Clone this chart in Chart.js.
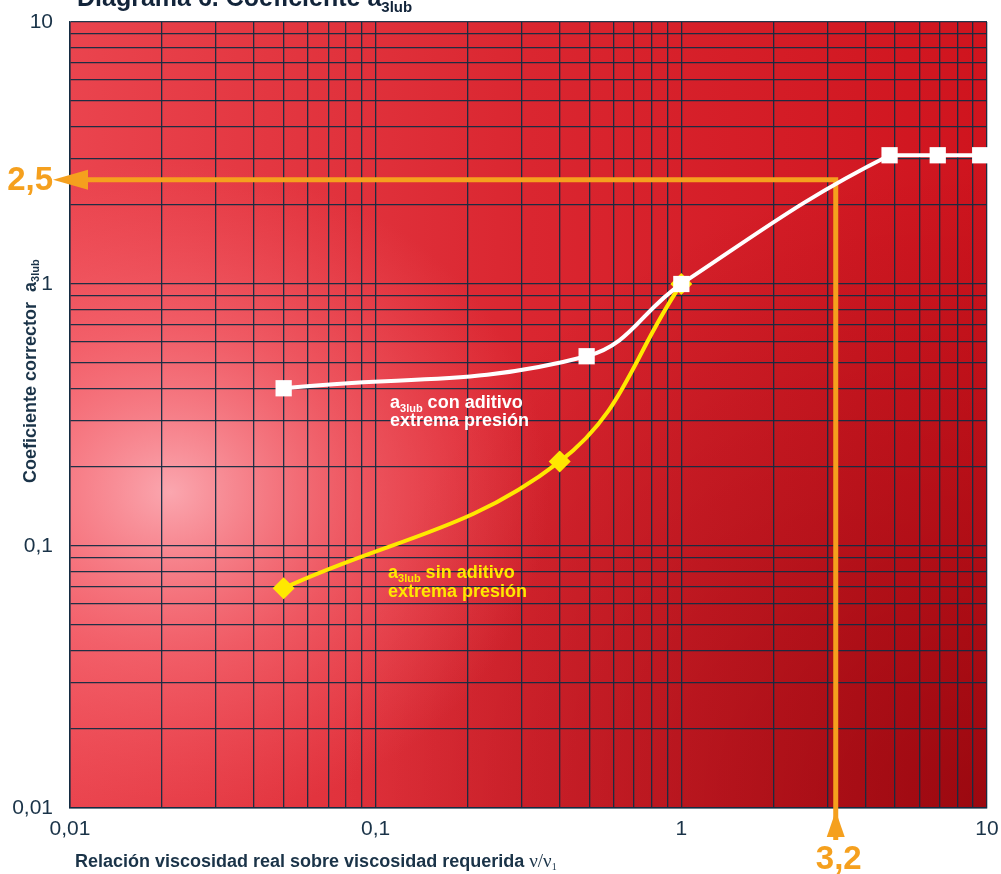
<!DOCTYPE html>
<html>
<head>
<meta charset="utf-8">
<script src="https://cdn.jsdelivr.net/npm/chart.js@4.4.0/dist/chart.umd.min.js"></script>
<style>
body { margin: 0; background: #fff; }
canvas { display: block; }
</style>
</head>
<body>
<canvas id="myChart" width="1001" height="874"></canvas>
<script>
// axis decades and their labels (both axes are log 0.01 .. 10)
var tickValues = [0.01, 0.1, 1, 10];
var tickLabels = ['0,01', '0,1', '1', '10'];

// a3lub con aditivo extrema presion (white curve)
var conX = [0.05, 0.49, 1, 4.8, 6.9, 9.5];
var conY = [0.4, 0.53, 1, 3.1, 3.1, 3.1];

// a3lub sin aditivo extrema presion (yellow curve)
var sinX = [0.05, 0.4, 1];
var sinY = [0.069, 0.21, 1];

// worked example
var readX = 3.2;
var readY = 2.5;
var readXLabel = '3,2';
var readYLabel = '2,5';

var navy = '#1a3348';
var orange = '#f5a01e';
var yellow = '#ffe800';
var sans = '"Liberation Sans", Arial, sans-serif';

// 1..9 lines inside each decade
var gridValues = [];
for (var d = 0; d < tickValues.length - 1; d++) {
    for (var m = 1; m < 10; m++) {
        gridValues.push(+(tickValues[d] * m).toPrecision(6));
    }
}
gridValues.push(tickValues[tickValues.length - 1]);

// where the white curve turns into the flat plateau
var flatFrom = conY.length - 1;
while (flatFrom > 0 && conY[flatFrom - 1] === conY[flatFrom]) flatFrom--;

function labelFor(v) {
    for (var i = 0; i < tickValues.length; i++) {
        if (Math.abs(v - tickValues[i]) < tickValues[i] * 1e-6) return tickLabels[i];
    }
    return '';
}

function toPoints(xs, ys) {
    return xs.map(function(x, i) { return {x: x, y: ys[i]}; });
}

// draws a run of text pieces with different fonts / baseline shifts
function drawRuns(ctx, runs, x, y) {
    for (var i = 0; i < runs.length; i++) {
        ctx.font = runs[i].f;
        ctx.fillText(runs[i].t, x, y + (runs[i].dy || 0));
        x += ctx.measureText(runs[i].t).width;
    }
}

var bgPlugin = {
    id: 'bg',
    beforeDraw: function(chart) {
        var ctx = chart.ctx, a = chart.chartArea;
        var w = a.right - a.left, h = a.bottom - a.top;
        ctx.save();
        var g = ctx.createLinearGradient(a.left, 0, a.right, 0);
        g.addColorStop(0, '#ea444e');
        g.addColorStop(0.5, '#da2630');
        g.addColorStop(1, '#cf141e');
        ctx.fillStyle = g;
        ctx.fillRect(a.left, a.top, w, h);

        var dk = ctx.createRadialGradient(a.right, a.bottom, 0, a.right, a.bottom, 650);
        dk.addColorStop(0, 'rgba(120,0,6,0.6)');
        dk.addColorStop(1, 'rgba(120,0,6,0)');
        ctx.fillStyle = dk;
        ctx.fillRect(a.left, a.top, w, h);

        // soft light patch on the left, a bit wider than tall
        var lx = a.left + 100, ly = a.top + 470;
        ctx.translate(lx, ly);
        ctx.scale(1.15, 1);
        var lt = ctx.createRadialGradient(0, 0, 0, 0, 0, 330);
        lt.addColorStop(0, 'rgba(255,190,198,0.82)');
        lt.addColorStop(0.5, 'rgba(255,135,145,0.42)');
        lt.addColorStop(1, 'rgba(255,110,120,0)');
        ctx.fillStyle = lt;
        ctx.fillRect(-lx / 1.15 + a.left / 1.15, -ly + a.top, w / 1.15, h);
        ctx.restore();
    }
};

var readPlugin = {
    id: 'reading',
    beforeDatasetsDraw: function(chart) {
        var ctx = chart.ctx, a = chart.chartArea;
        var px = chart.scales.x.getPixelForValue(readX);
        var py = chart.scales.y.getPixelForValue(readY);
        ctx.save();
        ctx.strokeStyle = orange;
        ctx.fillStyle = orange;
        ctx.lineWidth = 5;
        ctx.lineJoin = 'miter';
        ctx.beginPath();
        ctx.moveTo(a.left + 15, py);
        ctx.lineTo(px, py);
        ctx.lineTo(px, a.bottom + 32);
        ctx.stroke();

        ctx.beginPath();
        ctx.moveTo(a.left - 17, py);
        ctx.lineTo(a.left + 18, py - 10);
        ctx.lineTo(a.left + 18, py + 10);
        ctx.closePath();
        ctx.fill();

        ctx.beginPath();
        ctx.moveTo(px, a.bottom + 3);
        ctx.lineTo(px - 9, a.bottom + 29);
        ctx.lineTo(px + 9, a.bottom + 29);
        ctx.closePath();
        ctx.fill();

        ctx.font = 'bold 33px ' + sans;
        ctx.textBaseline = 'middle';
        ctx.textAlign = 'right';
        ctx.fillText(readYLabel, a.left - 17, py + 1);
        ctx.textAlign = 'center';
        ctx.textBaseline = 'alphabetic';
        ctx.fillText(readXLabel, px + 3, a.bottom + 61);
        ctx.restore();
    }
};

var textPlugin = {
    id: 'texts',
    afterDraw: function(chart) {
        var ctx = chart.ctx;
        ctx.save();
        ctx.textAlign = 'left';
        ctx.textBaseline = 'alphabetic';

        // title (cut by the top edge, as in the original)
        ctx.fillStyle = '#12243a';
        drawRuns(ctx, [
            {t: 'Diagrama 6. Coeficiente a', f: 'bold 25px ' + sans},
            {t: '3lub', f: 'bold 15px ' + sans, dy: 6}
        ], 77, 6);

        // x axis title
        ctx.fillStyle = navy;
        drawRuns(ctx, [
            {t: 'Relación viscosidad real sobre viscosidad requerida ', f: 'bold 18px ' + sans},
            {t: 'ν/ν', f: '19px "Liberation Serif", serif'},
            {t: '1', f: '10px "Liberation Serif", serif', dy: 3}
        ], 75, 867);

        // y axis title
        ctx.save();
        ctx.translate(36, 483);
        ctx.rotate(-Math.PI / 2);
        drawRuns(ctx, [
            {t: 'Coeficiente corrector  a', f: 'bold 18px ' + sans},
            {t: '3lub', f: 'bold 11px ' + sans, dy: 3}
        ], 0, 0);
        ctx.restore();

        // series labels
        ctx.fillStyle = '#ffffff';
        drawRuns(ctx, [
            {t: 'a', f: 'bold 18px ' + sans},
            {t: '3lub', f: 'bold 11px ' + sans, dy: 4},
            {t: ' con aditivo', f: 'bold 18px ' + sans}
        ], 390, 408);
        drawRuns(ctx, [{t: 'extrema presión', f: 'bold 18px ' + sans}], 390, 426);

        ctx.fillStyle = yellow;
        drawRuns(ctx, [
            {t: 'a', f: 'bold 18px ' + sans},
            {t: '3lub', f: 'bold 11px ' + sans, dy: 4},
            {t: ' sin aditivo', f: 'bold 18px ' + sans}
        ], 388, 578);
        drawRuns(ctx, [{t: 'extrema presión', f: 'bold 18px ' + sans}], 388, 597);
        ctx.restore();
    }
};

function logAxis(isX) {
    return {
        type: 'logarithmic',
        min: tickValues[0],
        max: tickValues[tickValues.length - 1],
        afterBuildTicks: function(scale) {
            scale.ticks = gridValues.map(function(v) { return {value: v}; });
        },
        afterFit: function(scale) {
            if (isX) scale.height = 66; else scale.width = 70;
            scale.paddingTop = 0;
            scale.paddingBottom = 0;
            scale.paddingLeft = 0;
            scale.paddingRight = 0;
        },
        grid: {
            color: 'rgba(20,44,66,0.95)',
            lineWidth: 1.3,
            drawTicks: false
        },
        border: { display: true, color: 'rgba(20,44,66,0.95)', width: 1.5 },
        ticks: {
            autoSkip: false,
            maxRotation: 0,
            padding: isX ? 9 : 17,
            color: navy,
            font: { family: sans, size: 21 },
            callback: function(value) { return labelFor(value); }
        }
    };
}

var ctx = document.getElementById('myChart');
var myChart = new Chart(ctx, {
    type: 'line',
    data: {
        datasets: [
            {
                // curved part; segments on the plateau are hidden and redrawn straight below
                label: 'a3lub con aditivo extrema presión',
                data: toPoints(conX, conY),
                borderColor: '#ffffff',
                borderWidth: 4,
                tension: 0.4,
                segment: {
                    borderColor: function(c) { return c.p0DataIndex >= flatFrom ? 'rgba(0,0,0,0)' : undefined; }
                },
                pointStyle: 'rect',
                pointRadius: 11.5,
                pointBackgroundColor: '#ffffff',
                pointBorderWidth: 0,
                clip: false
            },
            {
                label: 'plateau',
                data: toPoints(conX.slice(flatFrom), conY.slice(flatFrom)),
                borderColor: '#ffffff',
                borderWidth: 4,
                tension: 0,
                pointRadius: 0,
                clip: false
            },
            {
                label: 'a3lub sin aditivo extrema presión',
                data: toPoints(sinX, sinY),
                borderColor: yellow,
                borderWidth: 4,
                tension: 0.4,
                pointStyle: 'rectRot',
                pointRadius: 11,
                pointBackgroundColor: yellow,
                pointBorderWidth: 0,
                clip: false
            }
        ]
    },
    options: {
        responsive: false,
        animation: false,
        layout: { padding: { top: 22, right: 14, left: 0, bottom: 0 } },
        plugins: {
            legend: { display: false },
            tooltip: { enabled: false }
        },
        scales: {
            x: logAxis(true),
            y: logAxis(false)
        }
    },
    plugins: [bgPlugin, readPlugin, textPlugin]
});
</script>
</body>
</html>
